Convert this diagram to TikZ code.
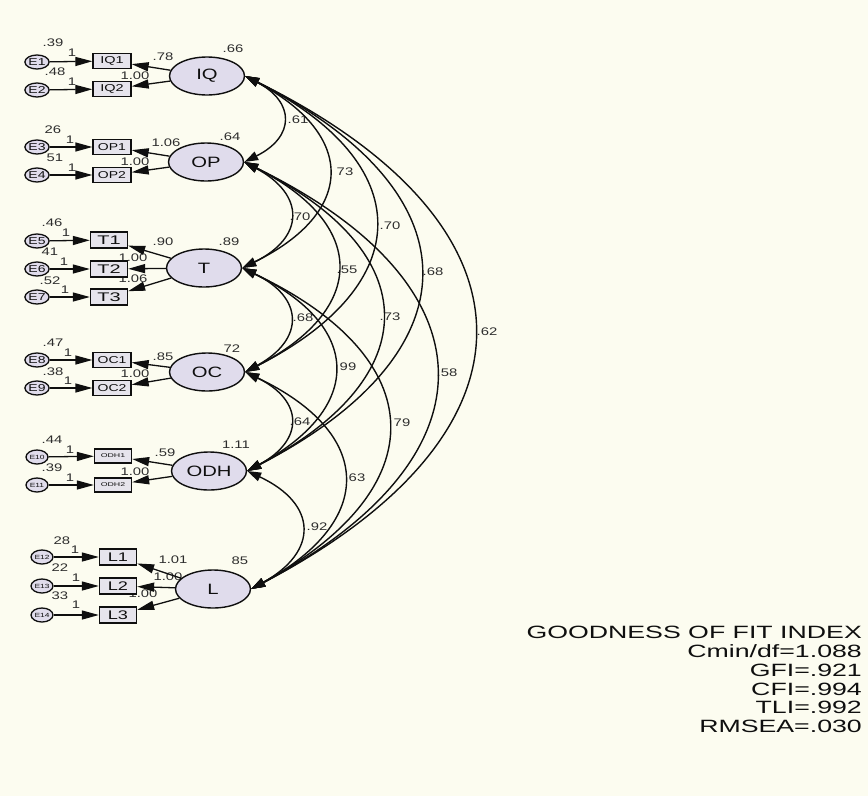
\documentclass[tikz,border=0pt]{standalone}
\usepackage{fontspec}
\setmainfont{Liberation Sans}
\usepackage{graphicx}
\usetikzlibrary{shapes.geometric,arrows.meta}
\definecolor{bg}{RGB}{252,252,240}
\definecolor{latfill}{RGB}{224,220,236}
\definecolor{obsfill}{RGB}{230,228,236}
\definecolor{ink}{RGB}{15,15,15}
\definecolor{labc}{RGB}{45,45,45}
\newcommand{\sx}[2][1.4]{\scalebox{#1}[1]{#2}}
\newcommand{\fs}[1]{\fontsize{#1}{#1}\selectfont}
\newcommand{\lab}[3]{\node[lab] (#1) at (#2) {\sx[1.35]{#3}};}
\begin{document}
\begin{tikzpicture}[x=1pt,y=-1pt,
  lat/.style={ellipse, draw=ink, line width=1.4pt, fill=latfill, minimum width=75pt, minimum height=38pt, inner sep=0pt, text=ink, font=\fs{15}},
  obs/.style={rectangle, draw=ink, line width=1.3pt, fill=obsfill, minimum width=38pt, minimum height=15pt, inner sep=0pt, text=ink, font=\fs{10}},
  obsbig/.style={obs, minimum width=37pt, minimum height=16pt, font=\fs{12.5}},
  obstiny/.style={obs, minimum width=37pt, minimum height=14pt, font=\fs{5.5}},
  err/.style={ellipse, draw=ink, line width=1.3pt, fill=latfill, minimum width=22pt, minimum height=14pt, inner sep=0pt, text=ink, font=\fs{10}},
  errsmall/.style={err, font=\fs{6}},
  lab/.style={inner sep=0pt, text=labc, font=\fs{11}},
  fitt/.style={inner sep=0pt, text=ink, font=\fontsize{17.8}{19}\selectfont, anchor=base east},
  ptr/.style={draw=ink, line width=1.3pt, -{Triangle[length=17pt,width=9pt]}},
  cov/.style={draw=ink, line width=1.4pt, {Triangle[length=14pt,width=9pt]}-{Triangle[length=14pt,width=9pt]}, bend left=63, looseness=1.68}
]
\fill[bg] (0,0) rectangle (868,796);
\useasboundingbox (0,0) rectangle (868,796);

% ---- labels (drawn first) ----
\lab{v1}{53,43}{.39}   \lab{o1}{72,53}{1}
\lab{v2}{55,72}{.48}   \lab{o2}{72,82}{1}
\lab{v3}{53,130}{26}   \lab{o3}{70,140}{1}
\lab{v4}{55,158}{51}   \lab{o4}{72,168}{1}
\lab{v5}{52,223}{.46}  \lab{o5}{66,233}{1}
\lab{v6}{50,252}{41}   \lab{o6}{64,262}{1}
\lab{v7}{50,281}{.52}  \lab{o7}{65,290}{1}
\lab{v8}{53,343}{.47}  \lab{o8}{68,353}{1}
\lab{v9}{53,372}{.38}  \lab{o9}{68,381}{1}
\lab{v10}{52,440}{.44} \lab{o10}{70,450}{1}
\lab{v11}{52,468}{.39} \lab{o11}{70,478}{1}
\lab{v12}{62,541}{28}  \lab{o12}{75,550}{1}
\lab{v13}{60,568}{22}  \lab{o13}{76,578}{1}
\lab{v14}{60,596}{33}  \lab{o14}{76,605}{1}

\lab{w1}{163,57}{.78}   \lab{w2}{135,76}{1.00}
\lab{w3}{166,143}{1.06} \lab{w4}{135,162}{1.00}
\lab{w5}{163,242}{.90}  \lab{w6}{133,258}{1.00} \lab{w7}{133,279}{1.06}
\lab{w8}{163,357}{.85}  \lab{w9}{135,374}{1.00}
\lab{w10}{165,453}{.59} \lab{w11}{135,472}{1.00}
\lab{w12}{173,560}{1.01} \lab{w13}{168,577}{1.00} \lab{w14}{143,594}{1.00}

\lab{s1}{233,49}{.66} \lab{s2}{230,137}{.64} \lab{s3}{229,242}{.89}
\lab{s4}{232,349}{72} \lab{s5}{236,445}{1.11} \lab{s6}{240,561}{85}

\lab{c1}{298,120}{.61}  \lab{c2}{345,172}{73}  \lab{c3}{390,226}{.70}
\lab{c4}{433,272}{.68}  \lab{c5}{487,332}{.62}
\lab{c6}{300,217}{.70}  \lab{c7}{347,270}{.55} \lab{c8}{390,317}{.73}
\lab{c9}{447,373}{.58}
\lab{c10}{303,318}{.68} \lab{c11}{348,367}{99} \lab{c12}{402,423}{79}
\lab{c13}{300,422}{.64} \lab{c14}{357,478}{63}
\lab{c15}{317,527}{.92}

% ---- latent variables ----
\node[lat] (IQ)  at (207,76)  {\sx[1.35]{IQ}};
\node[lat] (OP)  at (206,162) {\sx[1.35]{OP}};
\node[lat] (T)   at (204,268) {\sx[1.35]{T}};
\node[lat] (OC)  at (207,372) {\sx[1.35]{OC}};
\node[lat] (ODH) at (209,471) {\sx[1.35]{ODH}};
\node[lat] (L)   at (213,589) {\sx[1.35]{L}};

% ---- observed ----
\node[obs] (IQ1) at (112,61)  {\sx[1.45]{IQ1}};
\node[obs] (IQ2) at (112,89)  {\sx[1.45]{IQ2}};
\node[obs] (OP1) at (112,147) {\sx[1.4]{OP1}};
\node[obs] (OP2) at (112,175) {\sx[1.4]{OP2}};
\node[obsbig] (T1) at (109,240) {\sx[1.6]{T1}};
\node[obsbig] (T2) at (109,269) {\sx[1.6]{T2}};
\node[obsbig] (T3) at (109,297) {\sx[1.6]{T3}};
\node[obs] (OC1) at (112,360) {\sx[1.4]{OC1}};
\node[obs] (OC2) at (112,388) {\sx[1.4]{OC2}};
\node[obstiny] (ODH1) at (113,456) {\sx[1.6]{ODH1}};
\node[obstiny] (ODH2) at (113,485) {\sx[1.6]{ODH2}};
\node[obsbig] (L1) at (118,557) {\sx[1.45]{L1}};
\node[obsbig] (L2) at (118,586) {\sx[1.45]{L2}};
\node[obsbig] (L3) at (118,615) {\sx[1.45]{L3}};

% ---- errors ----
\node[err] (E1) at (37,62)  {\sx{E1}};
\node[err] (E2) at (37,90)  {\sx{E2}};
\node[err] (E3) at (37,147) {\sx{E3}};
\node[err] (E4) at (37,175) {\sx{E4}};
\node[err] (E5) at (37,241) {\sx{E5}};
\node[err] (E6) at (37,269) {\sx{E6}};
\node[err] (E7) at (37,297) {\sx{E7}};
\node[err] (E8) at (37,360) {\sx{E8}};
\node[err] (E9) at (37,388) {\sx{E9}};
\node[errsmall] (E10) at (37,457) {\sx{E10}};
\node[errsmall] (E11) at (37,485) {\sx{E11}};
\node[errsmall] (E12) at (42,557) {\sx{E12}};
\node[errsmall] (E13) at (42,586) {\sx{E13}};
\node[errsmall] (E14) at (42,615) {\sx{E14}};

% ---- error paths ----
\foreach \e/\o in {E1/IQ1,E2/IQ2,E3/OP1,E4/OP2,E5/T1,E6/T2,E7/T3,E8/OC1,E9/OC2,E10/ODH1,E11/ODH2,E12/L1,E13/L2,E14/L3}
  \draw[ptr] (\e) -- (\o);

% ---- loadings ----
\foreach \f/\o in {IQ/IQ1,IQ/IQ2,OP/OP1,OP/OP2,T/T1,T/T2,T/T3,OC/OC1,OC/OC2,ODH/ODH1,ODH/ODH2,L/L1,L/L2,L/L3}
  \draw[ptr] (\f) -- (\o);

% ---- covariances ----
\foreach \a/\b in {IQ/OP,IQ/T,IQ/OC,IQ/ODH,IQ/L,OP/T,OP/OC,OP/ODH,OP/L,T/OC,T/ODH,T/L,OC/ODH,OC/L,ODH/L}
  \draw[cov] (\a.east) to (\b.east);

% ---- fit indices ----
\node[fitt] (g1) at (862,638) {\sx[1.5]{GOODNESS OF FIT INDEX}};
\node[fitt] (g2) at (862,657) {\sx[1.5]{Cmin/df=1.088}};
\node[fitt] (g3) at (862,676) {\sx[1.5]{GFI=.921}};
\node[fitt] (g4) at (862,695) {\sx[1.5]{CFI=.994}};
\node[fitt] (g5) at (862,713) {\sx[1.5]{TLI=.992}};
\node[fitt] (g6) at (862,732) {\sx[1.5]{RMSEA=.030}};
\end{tikzpicture}
\end{document}
